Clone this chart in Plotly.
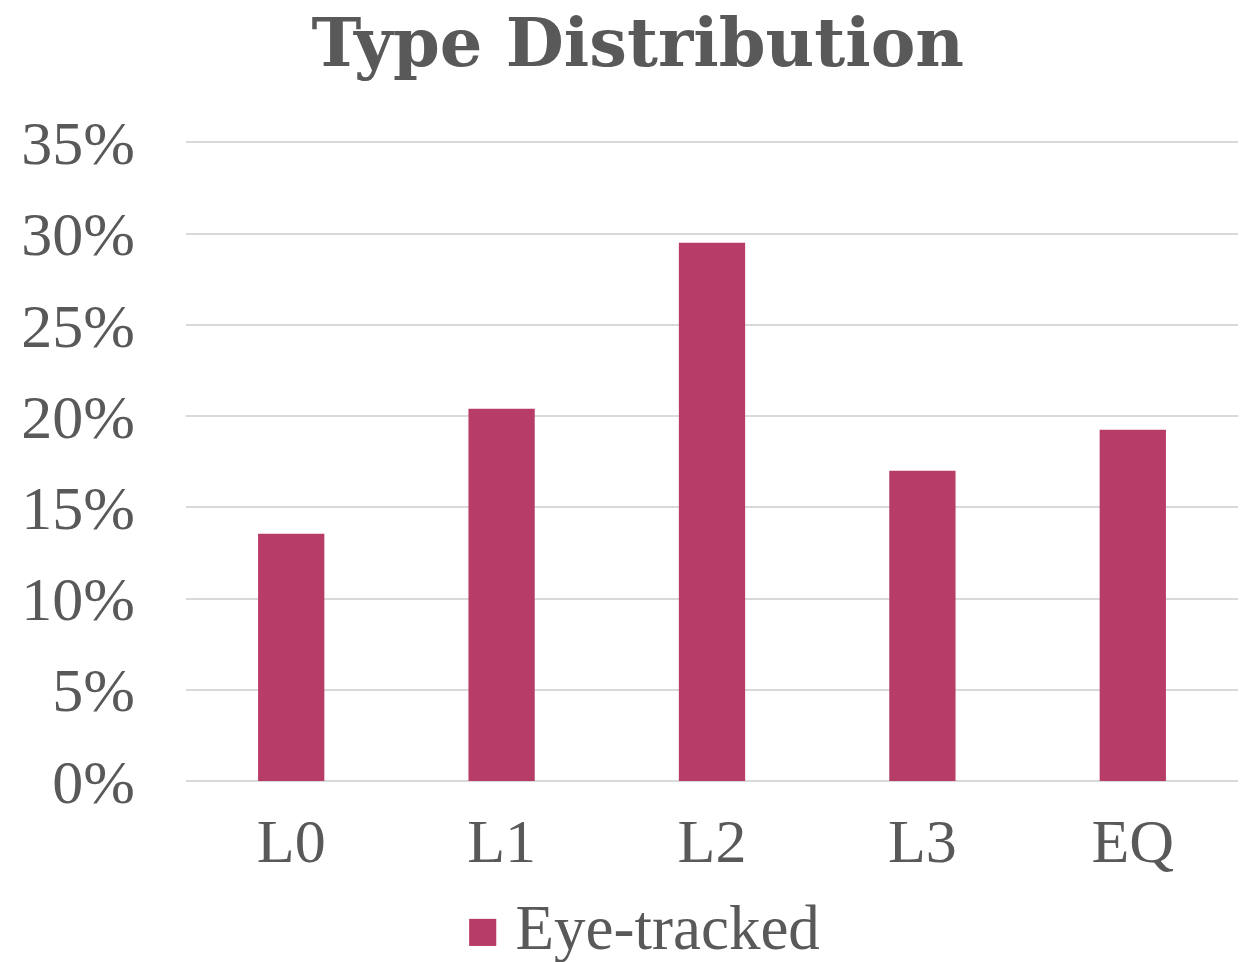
import plotly.graph_objects as go

categories = ["L0", "L1", "L2", "L3", "EQ"]
values = [13.55, 20.4, 29.5, 17.0, 19.25]
series_name = "Eye-tracked"
y_ticks = [0, 5, 10, 15, 20, 25, 30, 35]
y_tick_labels = [f"{v}%" for v in y_ticks]

FONT = "Liberation Serif"
TITLE_FONT = "DejaVu Serif"
GRAY = "#595959"
BAR = "#B83C68"

fig = go.Figure()
fig.add_trace(go.Bar(
    x=categories, y=values, name=series_name,
    marker=dict(color=BAR, line=dict(width=0)),
    width=0.315, showlegend=False,
))

# legend-style key (large square swatch + series name)
fig.add_annotation(
    text=f"<span style='color:{BAR};font-size:56px'>■</span> {series_name}",
    xref="paper", yref="paper", x=0.434, y=-0.229,
    xanchor="center", yanchor="middle", showarrow=False,
    font=dict(family=FONT, size=63, color=GRAY),
)

fig.update_layout(
    width=1253, height=962,
    paper_bgcolor="white", plot_bgcolor="white",
    margin=dict(l=186, r=15, t=137, b=181),
    title=dict(text="<b>Type Distribution</b>", x=0.509, xanchor="center",
               y=0.956, yanchor="middle",
               font=dict(family=TITLE_FONT, size=67, color=GRAY)),
    font=dict(family=FONT, color=GRAY),
    showlegend=False,
    bargap=0.685,
)
fig.update_yaxes(range=[0, 35.3], tickvals=y_ticks, ticktext=y_tick_labels,
                 showgrid=True, gridcolor="#D9D9D9", gridwidth=1.5,
                 zeroline=True, zerolinecolor="#D9D9D9", zerolinewidth=1.5,
                 showline=False, ticks="", automargin=False,
                 tickfont=dict(family=FONT, size=62, color=GRAY),
                 ticklabelstandoff=50)
fig.update_xaxes(showgrid=False, showline=False, ticks="", automargin=False,
                 tickfont=dict(family=FONT, size=62, color=GRAY),
                 ticklabelstandoff=18)

fig.write_html("out.html", config={"displayModeBar": False},
               post_script="document.body.style.margin='0';")
